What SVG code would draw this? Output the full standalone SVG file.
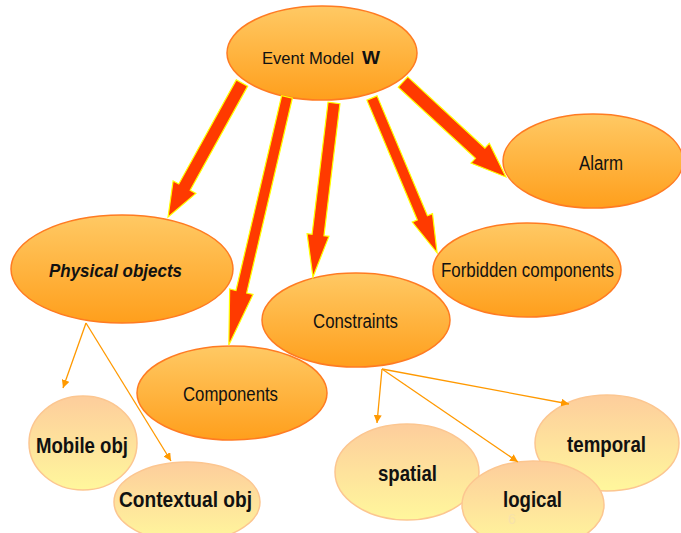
<svg xmlns="http://www.w3.org/2000/svg" width="681" height="533" viewBox="0 0 681 533">
<defs>
<linearGradient id="gMain" x1="0" y1="0" x2="0" y2="1">
<stop offset="0" stop-color="#ffc964"/>
<stop offset="1" stop-color="#ff9f1c"/>
</linearGradient>
<linearGradient id="gLight" x1="0" y1="0" x2="0" y2="1">
<stop offset="0" stop-color="#fdcd9c"/>
<stop offset="1" stop-color="#fff79c"/>
</linearGradient>
<marker id="ah" viewBox="0 0 10 10" refX="10" refY="5" markerWidth="8" markerHeight="8" orient="auto" markerUnits="userSpaceOnUse">
<path d="M0,0 L10,5 L0,10 Z" fill="#ff9900"/>
</marker>
</defs>
<style>
.main{fill:url(#gMain);stroke:#ff7b22;stroke-width:1.5}
.light{fill:url(#gLight);stroke:#fcc690;stroke-width:1.5}
.t{font-family:"Liberation Sans",Arial,sans-serif;fill:#111}
.tm{font-size:20px}
.tb{font-size:22px;font-weight:bold}
.big{fill:#ff3a00;stroke:#ffff00;stroke-width:1.2;stroke-linejoin:miter}
.thin{stroke:#ff9900;stroke-width:1.3;fill:none;marker-end:url(#ah)}
</style>

<g id="event-model">
<ellipse class="main" cx="322" cy="53" rx="95" ry="47"/>
<text class="t" x="262" y="64" font-size="17" textLength="92" lengthAdjust="spacingAndGlyphs">Event Model</text>
<text class="t" x="362" y="64" font-size="19" font-weight="bold" textLength="18" lengthAdjust="spacingAndGlyphs">W</text>
</g>
<g id="alarm">
<ellipse class="main" cx="593" cy="161" rx="90" ry="47"/>
<text class="t tm" x="579" y="170" textLength="44" lengthAdjust="spacingAndGlyphs">Alarm</text>
</g>
<g id="forbidden-components">
<ellipse class="main" cx="527" cy="270" rx="94" ry="47"/>
<text class="t tm" x="441" y="277" textLength="173" lengthAdjust="spacingAndGlyphs">Forbidden components</text>
</g>
<g id="physical-objects">
<ellipse class="main" cx="122" cy="269" rx="111" ry="54"/>
<text class="t" x="49" y="277" font-size="19" font-weight="bold" font-style="italic" textLength="133" lengthAdjust="spacingAndGlyphs">Physical objects</text>
</g>
<g id="constraints">
<ellipse class="main" cx="356" cy="320" rx="94" ry="47"/>
<text class="t tm" x="313" y="328" textLength="85" lengthAdjust="spacingAndGlyphs">Constraints</text>
</g>
<g id="components">
<ellipse class="main" cx="232" cy="393" rx="95" ry="47"/>
<text class="t tm" x="183" y="401" textLength="95" lengthAdjust="spacingAndGlyphs">Components</text>
</g>
<g id="mobile-obj">
<ellipse class="light" cx="83" cy="443" rx="54" ry="47"/>
<text class="t tb" x="36" y="453" textLength="92" lengthAdjust="spacingAndGlyphs">Mobile obj</text>
</g>
<g id="contextual-obj">
<ellipse class="light" cx="187" cy="502" rx="73" ry="40"/>
<text class="t tb" x="119" y="507" textLength="133" lengthAdjust="spacingAndGlyphs">Contextual obj</text>
</g>
<g id="temporal">
<ellipse class="light" cx="607" cy="443" rx="72" ry="48"/>
<text class="t tb" x="567" y="452" textLength="79" lengthAdjust="spacingAndGlyphs">temporal</text>
</g>
<g id="spatial">
<ellipse class="light" cx="407" cy="472" rx="72" ry="48"/>
<text class="t tb" x="378" y="481" textLength="59" lengthAdjust="spacingAndGlyphs">spatial</text>
</g>
<g id="logical">
<ellipse class="light" cx="533" cy="505" rx="71" ry="44"/>
<text class="t tb" x="503" y="507" textLength="59" lengthAdjust="spacingAndGlyphs">logical</text>
<text x="508" y="524" font-family="Liberation Sans,Arial,sans-serif" font-size="14" fill="#f7e2aa">6</text>
</g>

<g id="connectors">
<path class="big" transform="translate(242,83) rotate(118.9)" d="M0,-6.5 L119,-6.5 L119,-13 L153,0 L119,13 L119,6.5 L0,6.5 Z"/>
<path class="big" transform="translate(287,97) rotate(103.2)" d="M0,-5.5 L200,-5.5 L200,-12 L254.7,0 L200,12 L200,5.5 L0,5.5 Z"/>
<path class="big" transform="translate(334,103) rotate(96.9)" d="M0,-6 L133,-6 L133,-11 L175.3,0 L133,11 L133,6 L0,6 Z"/>
<path class="big" transform="translate(372,98) rotate(67.2)" d="M0,-5.5 L130,-5.5 L130,-11 L168,0 L130,11 L130,5.5 L0,5.5 Z"/>
<path class="big" transform="translate(403,82) rotate(42.7)" d="M0,-7 L105,-7 L105,-13.5 L140,0 L105,13.5 L105,7 L0,7 Z"/>
<line class="thin" x1="86" y1="323" x2="63" y2="388"/>
<line class="thin" x1="86" y1="323" x2="171" y2="461"/>
<line class="thin" x1="382" y1="369" x2="377" y2="423"/>
<line class="thin" x1="382" y1="369" x2="518" y2="462"/>
<line class="thin" x1="382" y1="369" x2="569" y2="404"/>
</g>
</svg>
